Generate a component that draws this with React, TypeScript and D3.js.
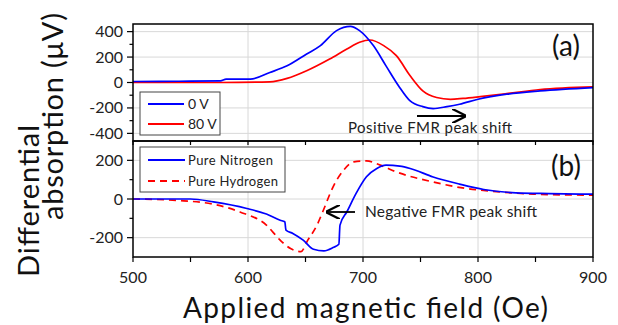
import React from 'react';
import * as d3 from 'd3';

// panel (a): bias voltage
const fieldA0 = [500, 540, 576, 581, 602, 619, 634, 651, 663, 677, 689, 697, 709, 720, 731, 741, 752, 761, 773, 784, 800, 825, 854, 900];
const absA0 = [8, 10, 13, 26, 26, 79, 131, 224, 290, 408, 442, 408, 290, 131, -27, -145, -190, -205, -190, -171, -132, -92, -66, -40];
const fieldA80 = [500, 576, 619, 634, 651, 671, 686, 697, 706, 718, 729, 741, 752, 764, 776, 787, 802, 825, 854, 900];
const absA80 = [0, 0, 5, 32, 92, 184, 263, 316, 334, 290, 211, 53, -66, -118, -132, -125, -111, -87, -55, -34];

// panel (b): gas
const fieldN2 = [500, 550, 570, 599, 616, 628, 632, 633, 639, 648, 657, 666, 674, 679, 680, 686, 694, 703, 712, 720, 732, 741, 761, 784, 805, 833, 862, 900];
const absN2 = [0, 0, -15, -49, -78, -110, -118, -161, -178, -213, -260, -268, -251, -234, -135, -66, 29, 115, 158, 175, 170, 158, 114, 77, 49, 32, 28, 25];
const fieldH2 = [500, 540, 570, 593, 616, 628, 637, 646, 652, 660, 665, 674, 683, 692, 703, 715, 729, 761, 790, 819, 848, 900];
const absH2 = [0, -8, -27, -67, -135, -213, -256, -272, -213, -135, -66, 63, 148, 192, 197, 175, 140, 88, 54, 37, 25, 20];

const xTicks = [500, 600, 700, 800, 900];
const xMinor = [550, 650, 750, 850];
const yTicksA = [-400, -200, 0, 200, 400];
const yMinorA = [-300, -100, 100, 300];
const yTicksB = [-200, 0, 200];
const yMinorB = [-100, 100];

const FONT = 'Lato, "Open Sans", sans-serif';
const BLUE = '#0000ff';
const RED = '#ff0000';
const GRID = '#d8d8d8';

const left = 133;
const right = 593;
const topA = 24;
const mid = 141;
const bottomB = 257;

const App = () => {
  const x = d3.scaleLinear().domain([500, 900]).range([left, right]);
  const yA = d3.scaleLinear().domain([-460, 460]).range([mid, topA]);
  const yB = d3.scaleLinear().domain([-300, 300]).range([bottomB, mid]);

  const makePath = (xs: number[], ys: number[], y: d3.ScaleLinear<number, number>) =>
    d3.line<number>()
      .x((_, i) => x(xs[i]))
      .y((d) => y(d))
      .curve(d3.curveMonotoneX)(ys) || '';

  const yAxis = (y: d3.ScaleLinear<number, number>, major: number[], minor: number[]) => (
    <g>
      {major.map((t) => (
        <g key={`m${t}`}>
          <line x1={left - 6} x2={left} y1={y(t)} y2={y(t)} stroke="#000" strokeWidth={1.2} />
          <text x={left - 10} y={y(t) + 5.5} textAnchor="end" fontSize={16} fill="#222">
            {t}
          </text>
        </g>
      ))}
      {minor.map((t) => (
        <line key={`n${t}`} x1={left - 3.5} x2={left} y1={y(t)} y2={y(t)} stroke="#000" strokeWidth={1.2} />
      ))}
    </g>
  );

  return (
    <svg width={618} height={325} style={{ position: 'absolute', left: 0, top: 0, fontFamily: FONT }}>
      <rect width={618} height={325} fill="#fff" />

      {/* grid */}
      {xTicks.slice(1, -1).map((t) => (
        <line key={`gx${t}`} x1={x(t)} x2={x(t)} y1={topA} y2={bottomB} stroke={GRID} strokeWidth={1} />
      ))}
      {yTicksA.map((t) => (
        <line key={`ga${t}`} x1={left} x2={right} y1={yA(t)} y2={yA(t)} stroke={GRID} strokeWidth={1} />
      ))}
      {yTicksB.map((t) => (
        <line key={`gb${t}`} x1={left} x2={right} y1={yB(t)} y2={yB(t)} stroke={GRID} strokeWidth={1} />
      ))}

      {/* curves */}
      <path d={makePath(fieldA80, absA80, yA)} fill="none" stroke={RED} strokeWidth={1.7} />
      <path d={makePath(fieldA0, absA0, yA)} fill="none" stroke={BLUE} strokeWidth={1.7} />
      <path d={makePath(fieldH2, absH2, yB)} fill="none" stroke={RED} strokeWidth={1.7} strokeDasharray="7,5" />
      <path d={makePath(fieldN2, absN2, yB)} fill="none" stroke={BLUE} strokeWidth={1.7} />

      {/* frames */}
      <rect x={left} y={topA} width={right - left} height={mid - topA} fill="none" stroke="#000" strokeWidth={1.5} />
      <rect x={left} y={mid} width={right - left} height={bottomB - mid} fill="none" stroke="#000" strokeWidth={1.5} />

      {/* x ticks */}
      {xTicks.concat(xMinor).map((t) => (
        <g key={`xt${t}`}>
          <line x1={x(t)} x2={x(t)} y1={mid} y2={mid + 4} stroke="#000" strokeWidth={1.2} />
          <line x1={x(t)} x2={x(t)} y1={bottomB} y2={bottomB + 5} stroke="#000" strokeWidth={1.2} />
        </g>
      ))}
      {xTicks.map((t) => (
        <text key={`xl${t}`} x={x(t)} y={283} textAnchor="middle" fontSize={16} fill="#222">
          {t}
        </text>
      ))}

      {yAxis(yA, yTicksA, yMinorA)}
      {yAxis(yB, yTicksB, yMinorB)}

      {/* axis titles */}
      <text x={183} y={318} fontSize={28} fill="#111" textLength={365}>
        Applied magnetic field (Oe)
      </text>
      <text transform="translate(39, 277) rotate(-90)" fontSize={29} fill="#111" textLength={152}>
        Differential
      </text>
      <text transform="translate(63, 220) rotate(-90)" fontSize={29} fill="#111" textLength={207}>
        absorption (μV)
      </text>

      {/* panel labels */}
      <text x={566} y={56} textAnchor="middle" fontSize={28} fill="#111">(a)</text>
      <text x={566} y={176} textAnchor="middle" fontSize={28} fill="#111">(b)</text>

      {/* legend (a) */}
      <rect x={140} y={92} width={80} height={43} fill="#fff" stroke="#444" strokeWidth={1} />
      <line x1={148} x2={184} y1={104} y2={104} stroke={BLUE} strokeWidth={1.8} />
      <text x={188} y={109} fontSize={14} fill="#222">0 V</text>
      <line x1={148} x2={184} y1={124} y2={124} stroke={RED} strokeWidth={1.8} />
      <text x={188} y={129} fontSize={14} fill="#222">80 V</text>

      {/* legend (b) */}
      <rect x={140} y={147} width={145} height={45} fill="#fff" stroke="#444" strokeWidth={1} />
      <line x1={148} x2={185} y1={160} y2={160} stroke={BLUE} strokeWidth={1.8} />
      <text x={188} y={165} fontSize={13} fill="#222" textLength={85}>Pure Nitrogen</text>
      <line x1={148} x2={185} y1={181} y2={181} stroke={RED} strokeWidth={1.8} strokeDasharray="7,5" />
      <text x={188} y={186} fontSize={13} fill="#222" textLength={90}>Pure Hydrogen</text>

      {/* annotations */}
      <defs>
        <marker id="arr" viewBox="0 0 10 10" refX={9} refY={5} markerWidth={8} markerHeight={8} orient="auto">
          <path d="M0,0 L10,5 L0,10" fill="none" stroke="#000" strokeWidth={1.6} />
        </marker>
      </defs>
      <line x1={417} x2={465} y1={116} y2={116} stroke="#000" strokeWidth={1.8} markerEnd="url(#arr)" />
      <text x={348} y={133} fontSize={15} fill="#222" textLength={164}>Positive FMR peak shift</text>
      <line x1={355} x2={327} y1={212} y2={212} stroke="#000" strokeWidth={1.8} markerEnd="url(#arr)" />
      <text x={365} y={217} fontSize={15.5} fill="#222" textLength={172}>Negative FMR peak shift</text>
    </svg>
  );
};

export default App;
